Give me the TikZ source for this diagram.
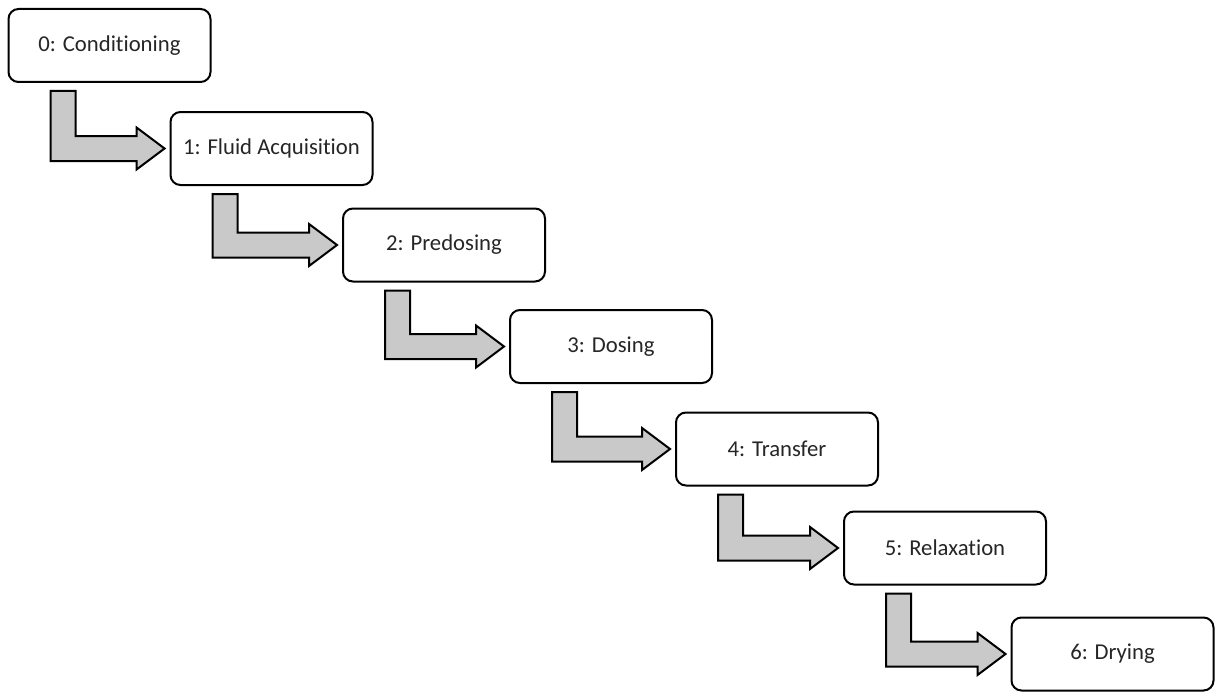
\documentclass[tikz,border=0pt]{standalone}
\usepackage{fontspec}
\setmainfont[Ligatures={NoCommon,NoDiscretionary,NoContextual}]{Carlito}
\usetikzlibrary{calc}
\definecolor{arrowfill}{RGB}{201,201,201}
\tikzset{
  stagebox/.style={draw=black, line width=2pt, rounded corners=10pt, fill=white,
    minimum width=202pt, minimum height=73pt, inner sep=0pt, outer sep=0pt,
    font=\fontsize{22.7}{27}\selectfont, text=black!85},
  bigarrow/.style={draw=black, line width=2pt, fill=arrowfill, line join=miter}
}
\newcommand{\stagearrow}[2]{%
  \draw[bigarrow] ($(#1.south west)+(42,9)$) -- ($(#1.south west)+(67,9)$)
    -- ($(#1.south west |- #2.west)+(67,-12.5)$) -- ($(#2.west)+(-34,-12.5)$)
    -- ($(#2.west)+(-34,-21)$) -- ($(#2.west)+(-6,0)$)
    -- ($(#2.west)+(-34,21)$) -- ($(#2.west)+(-34,12.5)$)
    -- ($(#1.south west |- #2.west)+(42,12.5)$) -- cycle;}
\begin{document}
\begin{tikzpicture}[x=1pt, y=-1pt]
\useasboundingbox (0,0) rectangle (1219,693);
\node[stagebox] (b0) at (109.5,45.5) {0: Conditioning};
\node[stagebox] (b1) at (271.5,148.5) {1: Fluid Acquisition};
\node[stagebox] (b2) at (444,245) {2: Predosing};
\node[stagebox] (b3) at (611,346.5) {3: Dosing};
\node[stagebox] (b4) at (777,449) {4: Transfer};
\node[stagebox] (b5) at (945,548) {5: Relaxation};
\node[stagebox] (b6) at (1112.5,654) {6: Drying};
\stagearrow{b0}{b1}
\stagearrow{b1}{b2}
\stagearrow{b2}{b3}
\stagearrow{b3}{b4}
\stagearrow{b4}{b5}
\stagearrow{b5}{b6}
\end{tikzpicture}
\end{document}
